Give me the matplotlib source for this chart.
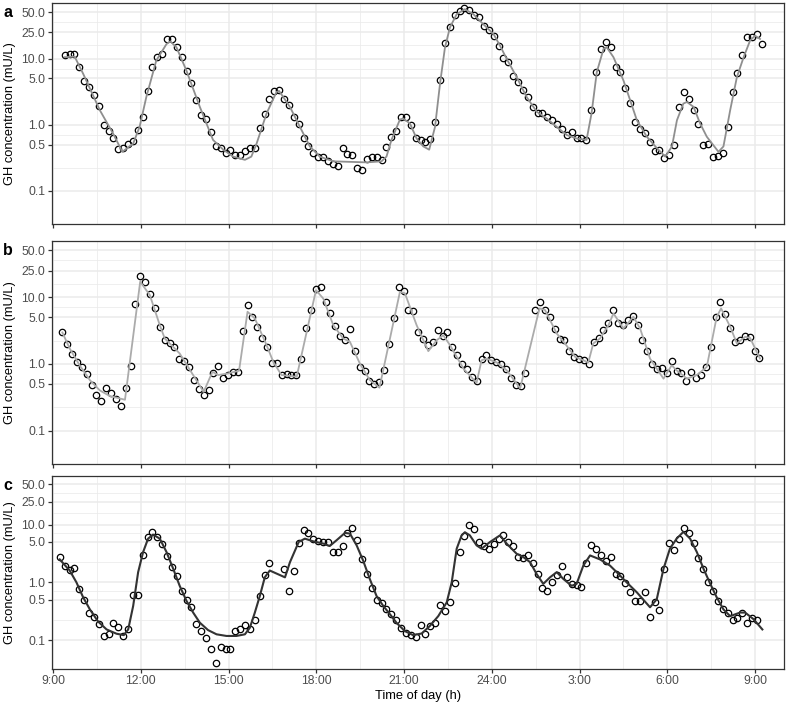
import numpy as np
import matplotlib
matplotlib.use("Agg")
import matplotlib.pyplot as plt
from matplotlib.ticker import FixedLocator

plt.rcParams['font.family'] = ['Liberation Sans', 'DejaVu Sans']

# ===== DATA =====
# GH samples, every 10 min; first sample minutes after 9:00
SAMPLE_STEP_MIN = 10
start_a, start_b, start_c = 24, 19, 14

gh_a = [11.4, 11.6, 11.6, 7.4, 4.6, 3.7, 2.85, 1.93, 1.0, 0.80, 0.62, 0.43, 0.45, 0.51, 0.56, 0.83,
        1.30, 3.2, 7.4, 10.7, 11.8, 19.6, 19.8, 14.8, 10.7, 6.4, 4.3, 2.35, 1.40, 1.23, 0.79, 0.48,
        0.45, 0.37, 0.42, 0.35, 0.35, 0.40, 0.45, 0.44, 0.89, 1.43, 2.45, 3.27, 3.39, 2.48, 2.02, 1.30,
        1.01, 0.62, 0.47, 0.37, 0.32, 0.33, 0.285, 0.257, 0.234, 0.45, 0.36, 0.35, 0.221, 0.206, 0.305, 0.33,
        0.32, 0.29, 0.46, 0.66, 0.80, 1.29, 1.29, 0.99, 0.64, 0.58, 0.54, 0.60, 1.10, 4.8, 17.0, 30.3,
        45.7, 52.6, 59.0, 54.6, 45.4, 41.9, 30.6, 27.3, 22.2, 15.5, 10.2, 9.0, 5.4, 4.4, 3.4, 2.63,
        1.86, 1.48, 1.51, 1.29, 1.20, 1.01, 0.85, 0.70, 0.78, 0.64, 0.64, 0.59, 1.66, 6.25, 14.0, 17.6,
        14.8, 7.4, 6.3, 3.6, 2.14, 1.10, 0.86, 0.74, 0.54, 0.40, 0.41, 0.31, 0.35, 0.50, 1.84, 3.09,
        2.43, 1.70, 1.01, 0.50, 0.52, 0.33, 0.34, 0.38, 0.93, 3.17, 6.1, 11.4, 21.4, 21.4, 23.8, 16.6]

gh_b = [3.05, 1.95, 1.40, 1.08, 0.90, 0.70, 0.48, 0.34, 0.28, 0.43, 0.37, 0.30, 0.237, 0.43, 0.94, 7.9,
        20.4, 16.6, 11.2, 6.8, 3.55, 2.24, 2.07, 1.76, 1.20, 1.11, 0.91, 0.57, 0.42, 0.34, 0.41, 0.72,
        0.92, 0.62, 0.68, 0.76, 0.76, 3.13, 7.6, 5.07, 3.59, 2.43, 1.78, 1.02, 1.02, 0.68, 0.71, 0.68,
        0.68, 1.17, 3.39, 6.5, 13.2, 14.3, 8.5, 5.75, 3.63, 2.6, 2.29, 3.31, 1.55, 0.91, 0.78, 0.55,
        0.50, 0.54, 0.82, 2.0, 4.9, 14.0, 12.3, 6.3, 6.2, 3.05, 2.37, 1.91, 2.09, 3.2, 2.63, 2.95,
        1.78, 1.36, 1.0, 0.83, 0.63, 0.55, 1.20, 1.36, 1.15, 1.07, 0.98, 0.84, 0.62, 0.49, 0.46, 0.73,
        np.nan, 6.3, 8.4, 6.3, 5.0, 3.35, 2.37, 2.24, 1.58, 1.26, 1.19, 1.16, 1.0, 2.11, 2.40, 3.16,
        4.12, 6.3, 4.12, 3.80, 4.47, 5.13, 3.76, 2.29, 1.57, 1.0, 0.84, 0.86, 0.73, 1.10, 0.78, 0.72,
        0.55, 0.76, 0.61, 0.69, 0.90, 1.76, 5.0, 8.4, 5.56, 3.5, 2.09, 2.24, 2.6, 2.54, 1.57, 1.24]

gh_c = [2.76, 1.93, 1.64, 1.80, 0.77, 0.49, 0.29, 0.25, 0.193, 0.117, 0.13, 0.195, 0.168, 0.119, 0.153, 0.60,
        0.60, 2.92, 6.2, 7.4, 6.1, 4.6, 2.88, 1.83, 1.29, 0.72, 0.50, 0.376, 0.193, 0.141, 0.107, 0.071,
        0.040, 0.076, 0.071, 0.071, 0.141, 0.155, 0.18, 0.155, 0.226, 0.57, 1.34, 2.17, np.nan, np.nan, 1.71, 0.72,
        1.60, 4.86, 8.0, 7.1, 5.7, 5.2, 4.9, 5.0, 3.34, 3.34, 4.25, 7.1, 8.6, 5.3, 2.52, 1.38,
        0.79, 0.50, 0.44, 0.34, 0.28, 0.22, 0.16, 0.132, 0.122, 0.111, 0.18, 0.13, 0.174, 0.20, 0.41, 0.316,
        0.45, 0.99, 3.38, 6.3, 9.7, 8.3, 5.0, 4.25, 3.77, 4.6, 5.7, 6.7, 4.9, 4.2, 2.69, 2.63,
        3.0, 2.14, 1.38, 0.80, 0.72, 1.03, 1.34, 1.95, 1.22, 0.93, 0.90, 0.83, 2.12, 4.36, 3.77, 2.92,
        2.32, 2.77, 1.40, 1.27, 0.96, 0.67, 0.48, 0.47, 0.69, 0.255, 0.45, 0.33, 1.71, 4.73, 3.57, 5.56,
        8.75, 7.25, 4.86, 2.62, 1.71, 1.0, 0.72, 0.47, 0.34, 0.29, 0.22, 0.24, 0.29, 0.20, 0.24, 0.22]

# model fits (hours after 9:00, mU/L)
fit_t_a = [0.40, 0.74, 1.03, 1.60, 2.05, 2.37, 2.74, 2.96, 3.19, 3.53, 3.88, 4.01, 4.22, 4.56, 5.02, 5.47,
           5.82, 6.16, 6.56, 6.78, 6.96, 7.30, 7.64, 7.73, 8.10, 8.44, 8.78, 9.12, 9.58, 10.72, 11.23, 11.40,
           11.57, 11.86, 11.97, 12.20, 12.43, 12.66, 12.86, 13.06, 13.23, 13.40, 13.57, 13.80, 14.08, 14.37, 14.71, 15.06,
           15.28, 15.51, 15.85, 16.19, 16.54, 16.88, 17.22, 17.56, 17.90, 18.24, 18.41, 18.59, 18.82, 18.93, 19.16, 19.50,
           19.73, 19.96, 20.30, 20.65, 20.93, 21.16, 21.33, 21.55, 21.67, 21.90, 22.12, 22.35, 22.75, 22.92, 23.15, 23.38,
           23.61, 23.83, 24.00, 24.17]
fit_v_a = [10.5, 10.7, 5.9, 1.66, 0.74, 0.39, 0.52, 0.93, 2.63, 9.35, 16.6, 18.2, 14.8, 6.6, 1.86, 0.59,
           0.42, 0.33, 0.295, 0.33, 0.52, 1.48, 3.13, 3.24, 1.86, 0.93, 0.47, 0.33, 0.28, 0.27, 0.28, 0.33,
           0.59, 1.20, 1.24, 1.05, 0.62, 0.47, 0.42, 0.93, 4.17, 14.8, 29.6, 46.9, 55.8, 46.9, 33.1, 23.5,
           15.7, 9.9, 5.26, 2.63, 1.57, 1.24, 0.93, 0.70, 0.62, 0.59, 1.48, 6.25, 14.0, 14.8, 10.5, 4.69,
           2.35, 1.17, 0.66, 0.44, 0.33, 0.47, 1.17, 2.09, 2.21, 1.86, 1.05, 0.66, 0.39, 0.47, 1.66, 5.26,
           10.5, 18.7, 22.2, 19.8]

fit_t_b = [0.32, 0.57, 0.91, 1.26, 1.60, 1.94, 2.46, 2.98, 3.31, 3.65, 3.82, 4.33, 4.79, 5.15, 5.45, 5.65,
           5.99, 6.36, 6.65, 6.90, 7.30, 7.53, 7.81, 8.33, 8.99, 9.24, 9.58, 9.92, 10.15, 10.49, 10.83, 11.16,
           11.86, 12.03, 12.43, 12.83, 13.12, 13.34, 13.57, 14.03, 14.48, 14.65, 14.82, 15.17, 15.51, 15.97, 16.63, 16.82,
           17.22, 17.50, 17.85, 18.30, 18.47, 18.70, 18.99, 19.16, 19.50, 19.84, 20.07, 20.41, 20.87, 21.15, 21.32, 21.67,
           22.01, 22.35, 22.69, 22.84, 23.15, 23.38, 23.66, 23.83, 24.17]
fit_v_b = [2.95, 1.70, 0.95, 0.57, 0.40, 0.33, 0.29, 17.0, 10.7, 3.80, 2.40, 1.43, 0.68, 0.38, 0.76, 0.68,
           0.72, 0.79, 6.03, 4.79, 1.91, 1.07, 0.68, 0.64, 12.7, 9.5, 3.80, 2.40, 2.14, 1.01, 0.57, 0.44,
           12.0, 11.4, 3.80, 1.55, 2.26, 2.69, 1.91, 0.85, 0.52, 1.13, 1.20, 1.05, 0.80, 0.43, 6.76, 6.4,
           2.85, 2.02, 1.27, 1.05, 2.02, 2.40, 3.80, 5.69, 3.39, 5.07, 3.39, 1.20, 0.60, 0.95, 0.80, 0.60,
           0.68, 0.90, 5.07, 6.76, 3.59, 2.02, 2.54, 2.45, 1.20]

fit_t_c = [0.23, 0.57, 0.80, 1.03, 1.26, 1.54, 1.83, 2.17, 2.42, 2.57, 2.74, 2.91, 3.08, 3.25, 3.42, 3.65,
           3.88, 4.11, 4.33, 4.56, 4.79, 5.02, 5.30, 5.59, 5.93, 6.27, 6.56, 6.73, 6.90, 7.07, 7.24, 7.41,
           7.93, 8.10, 8.40, 8.61, 8.89, 9.24, 9.46, 9.69, 9.98, 10.15, 10.38, 10.60, 10.83, 11.06, 11.29, 11.52,
           11.74, 12.03, 12.31, 12.60, 12.88, 13.17, 13.46, 13.63, 13.80, 13.97, 14.08, 14.25, 14.48, 14.65, 14.94, 15.28,
           15.51, 15.85, 16.08, 16.31, 16.53, 16.76, 16.99, 17.22, 17.45, 17.73, 17.90, 18.13, 18.36, 18.70, 19.04, 19.27,
           19.61, 19.96, 20.41, 20.64, 20.87, 21.09, 21.32, 21.55, 21.78, 22.01, 22.24, 22.47, 22.69, 22.92, 23.15, 23.49,
           23.66, 23.95, 24.25]
fit_v_c = [2.49, 1.60, 1.0, 0.55, 0.34, 0.21, 0.153, 0.129, 0.122, 0.153, 0.39, 1.50, 3.34, 5.7, 6.7, 5.7,
           3.34, 1.71, 0.87, 0.48, 0.30, 0.20, 0.149, 0.126, 0.118, 0.118, 0.126, 0.164, 0.30, 0.58, 1.22, 1.60,
           1.22, 2.23, 5.0, 5.7, 5.13, 4.68, 4.25, 5.33, 7.16, 6.98, 4.36, 2.39, 1.14, 0.58, 0.39, 0.28,
           0.20, 0.143, 0.122, 0.13, 0.175, 0.26, 0.45, 1.0, 3.82, 6.5, 7.36, 6.5, 4.36, 3.82, 4.99, 6.5,
           4.67, 3.12, 2.73, 2.23, 1.40, 0.94, 1.22, 1.50, 1.14, 0.87, 0.94, 1.95, 2.92, 2.49, 1.95, 1.50,
           1.0, 0.67, 0.37, 0.51, 1.71, 3.82, 5.7, 7.46, 5.7, 3.34, 1.71, 0.94, 0.55, 0.34, 0.26, 0.30,
           0.30, 0.23, 0.153]

x_ticks = [0, 3, 6, 9, 12, 15, 18, 21, 24]
x_labels = ['9:00', '12:00', '15:00', '18:00', '21:00', '24:00', '3:00', '6:00', '9:00']
y_ticks = [0.1, 0.5, 1.0, 5.0, 10.0, 25.0, 50.0]

panels = [
    ('a', start_a, gh_a, fit_t_a, fit_v_a, '#8f8f8f', 1.3),
    ('b', start_b, gh_b, fit_t_b, fit_v_b, '#ababab', 1.3),
    ('c', start_c, gh_c, fit_t_c, fit_v_c, '#333333', 1.5),
]

# panel boxes in pixels: top, bottom
W, H = 787, 705
boxes = [(3, 224), (241, 464), (476, 669)]
left_px, right_px = 52, 784

fig = plt.figure(figsize=(W / 100, H / 100), dpi=100)

# log-midpoints between major y breaks (ggplot style minor grid)
ly = np.log10(y_ticks)
y_minor = list(10 ** ((ly[:-1] + ly[1:]) / 2)) + [10 ** ((2 * ly[0] - (ly[1] - ly[0]) + ly[0]) / 2)]

for i, (lab, start, gh, ft, fv, col, lw) in enumerate(panels):
    top, bot = boxes[i]
    ax = fig.add_axes([left_px / W, 1 - bot / H, (right_px - left_px) / W, (bot - top) / H])
    t = (start + SAMPLE_STEP_MIN * np.arange(len(gh))) / 60.0

    ax.plot(t, gh, linestyle='none', marker='o', ms=4.6, mfc='none', mec='black', mew=0.9, zorder=3)
    ax.plot(ft, fv, color=col, lw=lw, zorder=4, solid_joinstyle='round')

    ax.set_yscale('log')
    ax.set_ylim(10 ** -1.50, 10 ** 1.84)
    ax.set_xlim(-0.035, 24.99)

    ax.yaxis.set_major_locator(FixedLocator(y_ticks))
    ax.yaxis.set_minor_locator(FixedLocator(y_minor))
    ax.set_yticklabels([f'{v:.1f}' for v in y_ticks])
    ax.xaxis.set_major_locator(FixedLocator(x_ticks))
    ax.xaxis.set_minor_locator(FixedLocator([x + 1.5 for x in x_ticks[:-1]]))
    if lab == 'c':
        ax.set_xticklabels(x_labels)
    else:
        ax.set_xticklabels([])

    ax.grid(which='major', color='#ebebeb', lw=1.1, zorder=0)
    ax.grid(which='minor', color='#ebebeb', lw=0.55, zorder=0)
    ax.set_axisbelow(True)
    for s in ax.spines.values():
        s.set_color('#333333')
        s.set_linewidth(0.9)
    ax.tick_params(which='major', length=3, width=0.9, color='#333333',
                   labelsize=8.8, labelcolor='#4d4d4d', pad=2)
    ax.tick_params(axis='x', which='major', pad=1)
    ax.tick_params(which='minor', length=0)

    fig.text(10 / W, 1 - (top + bot) / 2 / H, 'GH concentration (mU/L)', rotation=90,
             ha='center', va='center', fontsize=9.3)
    fig.text(3 / W, 1 - (top + 2) / H, lab, fontweight='bold', fontsize=11.5, ha='left', va='top')

fig.text((left_px + right_px) / 2 / W, 1 - 696 / H, 'Time of day (h)', ha='center', va='center', fontsize=9.3)

fig.savefig('out.png', dpi=100, facecolor='white')
